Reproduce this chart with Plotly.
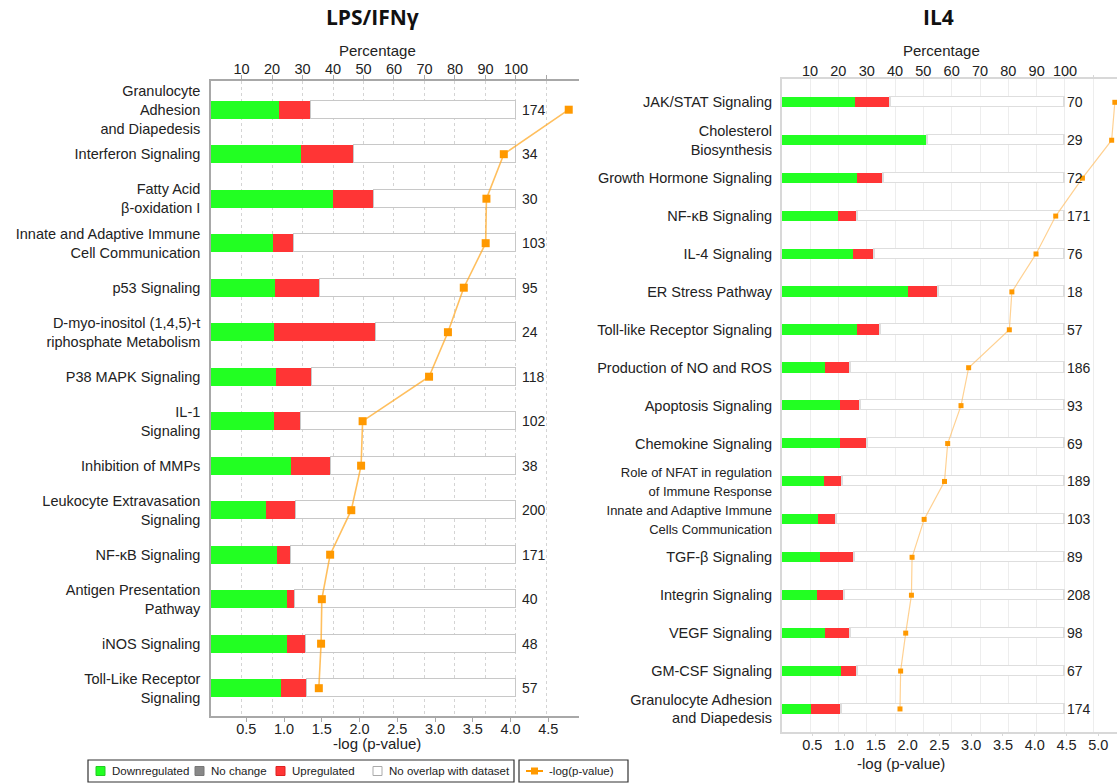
import plotly.graph_objects as go

W, H = 1117, 784
FONT = "Liberation Sans, Arial, sans-serif"

# ---------------- LPS/IFNγ ----------------
lps_pathways = [
    "Granulocyte<br>Adhesion<br>and Diapedesis",
    "Interferon Signaling",
    "Fatty Acid<br>β-oxidation I",
    "Innate and Adaptive Immune<br>Cell Communication",
    "p53 Signaling",
    "D-myo-inositol (1,4,5)-t<br>riphosphate Metabolism",
    "P38 MAPK Signaling",
    "IL-1<br>Signaling",
    "Inhibition of MMPs",
    "Leukocyte Extravasation<br>Signaling",
    "NF-κB Signaling",
    "Antigen Presentation<br>Pathway",
    "iNOS Signaling",
    "Toll-Like Receptor<br>Signaling",
]
lps_down = [22.4, 29.4, 40.0, 20.4, 21.1, 20.8, 21.2, 20.6, 26.3, 18.0, 21.6, 25.0, 25.0, 22.8]
lps_up = [10.3, 17.6, 13.3, 6.8, 14.7, 33.3, 11.9, 8.8, 13.2, 10.0, 4.7, 2.5, 6.3, 8.8]
lps_total = [174, 34, 30, 103, 95, 24, 118, 102, 38, 200, 171, 40, 48, 57]
lps_neglogp = [4.77, 3.91, 3.68, 3.67, 3.38, 3.17, 2.92, 2.04, 2.02, 1.89, 1.61, 1.50, 1.49, 1.46]

# ---------------- IL4 ----------------
small = '<span style="font-size:13px">{}</span>'
il4_pathways = [
    "JAK/STAT Signaling",
    "Cholesterol<br>Biosynthesis",
    "Growth Hormone Signaling",
    "NF-κB Signaling",
    "IL-4 Signaling",
    "ER Stress Pathway",
    "Toll-like Receptor Signaling",
    "Production of NO and ROS",
    "Apoptosis Signaling",
    "Chemokine Signaling",
    small.format("Role of NFAT in regulation") + "<br>" + small.format("of Immune Response"),
    small.format("Innate and Adaptive Immune") + "<br>" + small.format("Cells Communication"),
    "TGF-β Signaling",
    "Integrin Signaling",
    "VEGF Signaling",
    "GM-CSF Signaling",
    "Granulocyte Adhesion<br>and Diapedesis",
]
il4_down = [25.7, 51.7, 26.4, 19.9, 25.0, 44.4, 26.3, 15.1, 20.4, 20.3, 14.8, 12.6, 13.5, 12.5, 15.3, 20.9, 10.3]
il4_up = [12.9, 0.0, 9.7, 7.0, 7.9, 11.1, 8.8, 9.1, 7.5, 10.1, 6.9, 6.8, 12.4, 9.6, 9.2, 6.0, 10.9]
il4_total = [70, 29, 72, 171, 76, 18, 57, 186, 93, 69, 189, 103, 89, 208, 98, 67, 174]
il4_neglogp = [5.26, 5.21, 4.75, 4.33, 4.02, 3.64, 3.60, 2.96, 2.84, 2.63, 2.58, 2.26, 2.07, 2.06, 1.97, 1.89, 1.88]

pct_ticks = [10, 20, 30, 40, 50, 60, 70, 80, 90, 100, 110]
pct_ticktext = ["10", "20", "30", "40", "50", "60", "70", "80", "90", "100", ""]
lps_p_ticks = [0.5, 1.0, 1.5, 2.0, 2.5, 3.0, 3.5, 4.0, 4.5]
il4_p_ticks = [0.5, 1.0, 1.5, 2.0, 2.5, 3.0, 3.5, 4.0, 4.5, 5.0]

GREEN = "#22FF22"
RED = "#FF3535"
ORANGE = "#FF9900"


def px(x):
    return x / W


def py(y):
    return 1 - y / H


fig = go.Figure()


def add_panel(names, down, up, total, nlp, xa, xb, ya, bar_w, outline, msize, lcolor, lwidth):
    n = len(names)
    ys = list(range(n))
    none = [round(100 - d - u, 1) for d, u in zip(down, up)]
    fig.add_trace(go.Bar(y=ys, x=down, orientation="h", width=bar_w, xaxis=xa, yaxis=ya,
                         marker=dict(color=GREEN, line=dict(width=0)), showlegend=False,
                         hoverinfo="skip"))
    fig.add_trace(go.Bar(y=ys, x=up, orientation="h", width=bar_w, xaxis=xa, yaxis=ya,
                         marker=dict(color=RED, line=dict(width=0)), showlegend=False,
                         hoverinfo="skip"))
    fig.add_trace(go.Bar(y=ys, x=none, orientation="h", width=bar_w, xaxis=xa, yaxis=ya,
                         marker=dict(color="white", line=dict(color=outline, width=1.3)),
                         showlegend=False, hoverinfo="skip"))
    fig.add_trace(go.Scatter(y=ys, x=nlp, xaxis=xb, yaxis=ya, mode="lines+markers",
                             line=dict(color=lcolor, width=lwidth),
                             marker=dict(symbol="square", size=msize, color=ORANGE),
                             cliponaxis=False, showlegend=False))


add_panel(lps_pathways, lps_down, lps_up, lps_total, lps_neglogp,
          "x", "x2", "y", 0.40, "#C8C8C8", 8, "rgba(255,170,40,0.75)", 1.6)
add_panel(il4_pathways, il4_down, il4_up, il4_total, il4_neglogp,
          "x3", "x4", "y2", 0.27, "#DEDEDE", 5, "rgba(255,190,100,0.7)", 1.2)

tickfont = dict(family=FONT, size=14.5, color="#222")
catfont = dict(family=FONT, size=14.5, color="#222")

fig.update_layout(
    width=W, height=H,
    margin=dict(l=0, r=0, t=0, b=0),
    paper_bgcolor="white", plot_bgcolor="white",
    barmode="stack", bargap=0,
    font=dict(family=FONT, color="#222"),
    # left panel: percentage (top) and -log(p) (bottom)
    xaxis=dict(domain=[px(211), px(579)], range=[0, 120.66], side="top", anchor="y",
               tickvals=pct_ticks, ticktext=pct_ticktext, tickfont=tickfont,
               showgrid=True, gridcolor="#D4D4D4", griddash="dot", gridwidth=1,
               showline=True, linecolor="#A8A8A8", linewidth=1.5,
               ticks="outside", ticklen=4, tickcolor="#A8A8A8", zeroline=False,
               ticklabelstandoff=-5),
    xaxis2=dict(overlaying="x", side="bottom", anchor="y", range=[0.032, 4.906],
                tickvals=lps_p_ticks, ticktext=[f"{v:.1f}" for v in lps_p_ticks], tickfont=tickfont,
                showgrid=False, showline=True, linecolor="#A8A8A8", linewidth=1.5,
                ticks="outside", ticklen=4, tickcolor="#A8A8A8", zeroline=False,
                ticklabelstandoff=-5),
    yaxis=dict(domain=[py(716), py(81)], range=[13.625, -0.645], anchor="x",
               tickvals=list(range(len(lps_pathways))), ticktext=lps_pathways, tickfont=catfont,
               showgrid=False, zeroline=False, showline=True, linecolor="#A8A8A8", linewidth=1.5,
               ticks="", ticklabelstandoff=6),
    # right panel
    xaxis3=dict(domain=[px(781.7), 1.0], range=[0, 118.36], side="top", anchor="y2",
                tickvals=pct_ticks, ticktext=pct_ticktext, tickfont=tickfont,
                showgrid=True, gridcolor="#EDEDED", gridwidth=1,
                showline=True, linecolor="#D8D8D8", linewidth=1.5,
                ticks="outside", ticklen=3, tickcolor="#D8D8D8", zeroline=False,
                ticklabelstandoff=-7),
    xaxis4=dict(overlaying="x3", side="bottom", anchor="y2", range=[0.019, 5.294],
                tickvals=il4_p_ticks, ticktext=[f"{v:.1f}" for v in il4_p_ticks], tickfont=tickfont,
                showgrid=False, showline=True, linecolor="#D8D8D8", linewidth=1.5,
                ticks="outside", ticklen=3, tickcolor="#D8D8D8", zeroline=False,
                ticklabelstandoff=-4),
    yaxis2=dict(domain=[py(731.7), py(79.3)], range=[16.6, -0.607], anchor="x3",
                tickvals=list(range(len(il4_pathways))), ticktext=il4_pathways, tickfont=catfont,
                showgrid=False, zeroline=False, showline=True, linecolor="#D8D8D8", linewidth=1.5,
                ticks="", ticklabelstandoff=5),
)


def label(x, y, text, font, xanchor="center"):
    return dict(x=px(x), y=py(y), xref="paper", yref="paper", text=text, showarrow=False,
                xanchor=xanchor, yanchor="middle", font=font)


ann = []
# gene counts next to each bar
for i, t in enumerate(lps_total):
    ann.append(dict(x=100, y=i, xref="x", yref="y", text=str(t), showarrow=False,
                    xanchor="left", yanchor="middle", xshift=4,
                    font=dict(family=FONT, size=14, color="#222")))
for i, t in enumerate(il4_total):
    ann.append(dict(x=100, y=i, xref="x3", yref="y2", text=str(t), showarrow=False,
                    xanchor="left", yanchor="middle", xshift=0,
                    font=dict(family=FONT, size=14, color="#222")))

# panel titles
title_font = dict(family="Open Sans, Noto Sans, sans-serif", size=21, color="#111")
ann.append(label(372, 17, "<b>LPS/IFNγ</b>", title_font))
ann.append(label(938, 17, "<b>IL4</b>", title_font))

# axis titles
axfont = dict(family=FONT, size=15, color="#222")
ann += [
    label(377, 50, "Percentage", axfont),
    label(377, 743, "-log (p-value)", axfont),
    label(941, 50, "Percentage", axfont),
    label(901, 763, "-log (p-value)", axfont),
]

# legend
shapes = []
leg_y0, leg_y1 = 760, 782
shapes.append(dict(type="rect", xref="paper", yref="paper", x0=px(88), x1=px(514),
                   y0=py(leg_y1), y1=py(leg_y0), line=dict(color="#333", width=1.2)))
shapes.append(dict(type="rect", xref="paper", yref="paper", x0=px(519), x1=px(628),
                   y0=py(leg_y1), y1=py(leg_y0), line=dict(color="#333", width=1.2)))
legend_items = [
    (96, GREEN, "#22CC22", "Downregulated"),
    (195, "#888888", "#777777", "No change"),
    (276, RED, "#DD2222", "Upregulated"),
    (373, "white", "#AAAAAA", "No overlap with dataset"),
]
lfont = dict(family=FONT, size=11.5, color="#222")
for x0, fc, lc, text in legend_items:
    shapes.append(dict(type="rect", xref="paper", yref="paper", x0=px(x0), x1=px(x0 + 9),
                       y0=py(775.5), y1=py(766.5), fillcolor=fc, line=dict(color=lc, width=1)))
    ann.append(label(x0 + 14, 771, text, lfont, xanchor="left"))
shapes.append(dict(type="line", xref="paper", yref="paper", x0=px(526), x1=px(543),
                   y0=py(771), y1=py(771), line=dict(color=ORANGE, width=2)))
shapes.append(dict(type="rect", xref="paper", yref="paper", x0=px(531), x1=px(538),
                   y0=py(774.5), y1=py(767.5), fillcolor=ORANGE, line=dict(width=0)))
ann.append(label(547, 771, "-log(p-value)", lfont, xanchor="left"))

fig.update_layout(annotations=ann, shapes=shapes)
fig.write_html("out.html")
